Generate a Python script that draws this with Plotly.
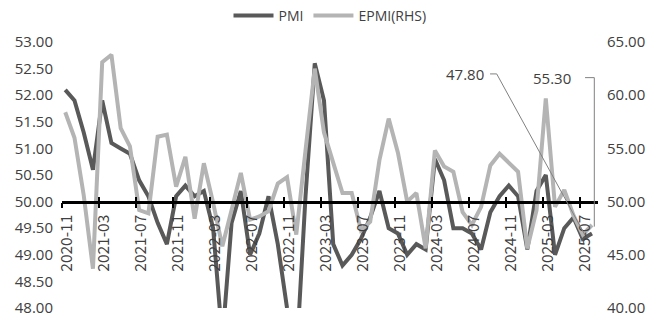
import plotly.graph_objects as go
import pandas as pd

months = [p.strftime('%Y-%m') for p in pd.period_range('2020-11', '2025-08', freq='M')]

pmi = [52.1, 51.9, 51.3, 50.6, 51.9, 51.1, 51.0, 50.9, 50.4, 50.1, 49.6, 49.2,
       50.1, 50.3, 50.1, 50.2, 49.5, 47.4, 49.6, 50.2, 49.0, 49.4, 50.1, 49.2,
       48.0, 47.0, 50.1, 52.6, 51.9, 49.2, 48.8, 49.0, 49.3, 49.7, 50.2, 49.5,
       49.4, 49.0, 49.2, 49.1, 50.8, 50.4, 49.5, 49.5, 49.4, 49.1, 49.8, 50.1,
       50.3, 50.1, 49.1, 50.2, 50.5, 49.0, 49.5, 49.7, 49.3, 49.4]

epmi = [58.4, 56.0, 50.6, 43.7, 63.1, 63.8, 56.9, 55.2, 49.2, 48.9, 56.1, 56.3,
        51.4, 54.2, 48.4, 53.6, 49.9, 45.8, 49.2, 52.7, 48.3, 48.6, 49.1, 51.7,
        52.3, 46.9, 54.8, 62.5, 56.5, 53.6, 50.8, 50.8, 47.3, 48.1, 53.9, 57.8,
        54.6, 50.0, 50.8, 45.6, 54.8, 53.3, 52.8, 49.0, 47.8, 49.5, 53.4, 54.5,
        53.7, 52.8, 45.6, 49.2, 59.7, 49.5, 51.1, 48.7, 46.9, 47.8]

tick_labels = months[::4]
callout_labels = ['47.80', '55.30']

x = list(range(len(months)))
label_pos = [i + 0.2 for i in range(0, len(months), 4)]
tick_pos = [i - 0.3 for i in range(0, len(months), 4)]
XR = [-0.35, 57.65]

fig = go.Figure()
fig.add_trace(go.Scatter(x=x, y=pmi, name='PMI', mode='lines',
                         line=dict(color='#595959', width=4), yaxis='y'))
fig.add_trace(go.Scatter(x=x, y=epmi, name='EPMI(RHS)', mode='lines',
                         line=dict(color='#b4b4b4', width=4), yaxis='y2'))
for ax in ['x2', 'x3']:
    fig.add_trace(go.Scatter(x=[0], y=[None], xaxis=ax, yaxis='y', mode='lines',
                             showlegend=False, hoverinfo='skip'))

lab_font = dict(family='Open Sans', size=15, color='#404040')
tick_common = dict(range=XR, anchor='free', position=0.4, showgrid=False,
                   zeroline=False, automargin=False, tickmode='array')

fig.update_layout(
    width=659, height=329,
    margin=dict(l=62, r=61, t=42, b=21),
    paper_bgcolor='white', plot_bgcolor='white',
    showlegend=True,
    legend=dict(orientation='h', x=0.5, xanchor='center', y=1.0, yanchor='top',
                yref='container', font=dict(family='Open Sans', size=14, color='#404040'),
                itemwidth=40, bgcolor='rgba(0,0,0,0)'),
    xaxis=dict(**tick_common, showline=False, ticks='', tickvals=label_pos,
               ticktext=tick_labels, tickangle=-90, ticklabelstandoff=9,
               tickfont=dict(family='Noto Sans CJK SC', size=15.5, color='#404040')),
    xaxis2=dict(**tick_common, overlaying='x', showline=True, linecolor='black',
                linewidth=2.5, ticks='outside', ticklen=5, tickwidth=2,
                tickcolor='black', tickvals=tick_pos, showticklabels=False),
    xaxis3=dict(**tick_common, overlaying='x', showline=False, ticks='inside',
                ticklen=5, tickwidth=2, tickcolor='black', tickvals=tick_pos,
                showticklabels=False),
    yaxis=dict(range=[48, 53], dtick=0.5, tickformat='.2f', showgrid=False,
               zeroline=False, showline=False, tickfont=lab_font,
               ticklabelstandoff=8, automargin=False),
    yaxis2=dict(range=[40, 65], dtick=5, tickformat='.2f', overlaying='y', side='right',
                showgrid=False, zeroline=False, showline=False, tickfont=lab_font,
                ticklabelstandoff=8, automargin=False),
)

fig.add_annotation(text=callout_labels[0], x=43.26, y=52.40, xref='x', yref='y',
                   showarrow=False, font=lab_font)
fig.add_annotation(text=callout_labels[1], x=52.67, y=52.33, xref='x', yref='y',
                   showarrow=False, font=lab_font)
fig.add_shape(type='path', xref='x', yref='y',
              path='M 45.97,52.40 L 46.69,52.40 L 56.25,49.37',
              line=dict(color='#808080', width=1))
fig.add_shape(type='path', xref='x', yref='y',
              path='M 56.25,52.33 L 57.25,52.33 L 57.25,49.53',
              line=dict(color='#808080', width=1))

fig.write_html('out.html')
